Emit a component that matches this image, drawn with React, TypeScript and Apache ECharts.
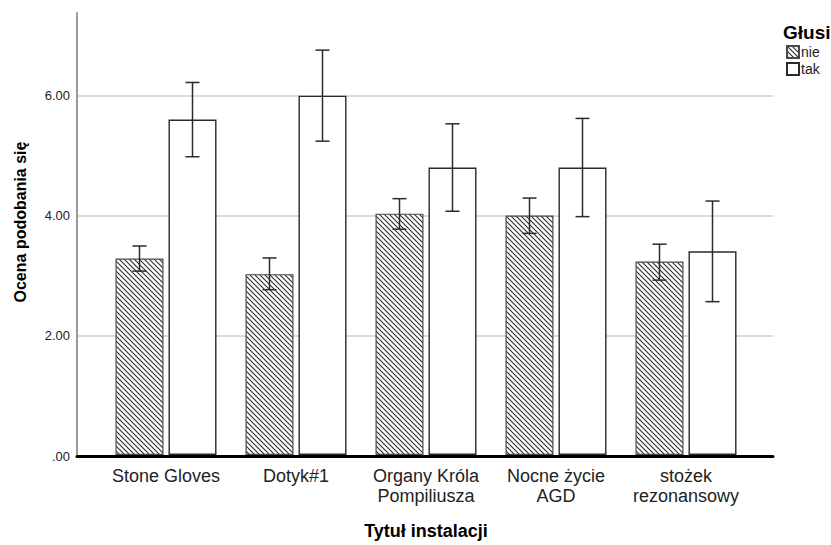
import React, { useEffect, useRef } from "react";
import * as echarts from "echarts";

const categories = ["Stone Gloves", "Dotyk#1", "Organy Króla\nPompiliusza", "Nocne życie\nAGD", "stożek\nrezonansowy"];
const groupNames = ["nie", "tak"];
const nieMeans = [3.28, 3.02, 4.03, 4.0, 3.23];
const nieLow = [3.07, 2.76, 3.77, 3.7, 2.92];
const nieHigh = [3.49, 3.29, 4.28, 4.29, 3.52];
const takMeans = [5.6, 6.0, 4.8, 4.8, 3.4];
const takLow = [4.98, 5.24, 4.07, 3.98, 2.56];
const takHigh = [6.22, 6.76, 5.53, 5.62, 4.24];
const yTicks = [0, 2, 4, 6];

const FONT = "'Liberation Sans', Arial, sans-serif";

function makeHatch(): string {
  const p = 5;
  const c = document.createElement("canvas");
  c.width = p;
  c.height = p;
  const ctx = c.getContext("2d")!;
  ctx.fillStyle = "#ffffff";
  ctx.fillRect(0, 0, p, p);
  ctx.strokeStyle = "#2a2a2a";
  ctx.lineWidth = 1.1;
  for (let k = -1; k <= 1; k++) {
    ctx.beginPath();
    ctx.moveTo(k * p - 1, -1);
    ctx.lineTo(k * p + p + 1, p + 1);
    ctx.stroke();
  }
  return c.toDataURL();
}

export default function App() {
  const ref = useRef<HTMLDivElement>(null);
  useEffect(() => {
    const chart = echarts.init(ref.current!, undefined, { renderer: "svg" });
    const hatch = { image: makeHatch(), repeat: "repeat" } as any;
    const barW = 48;
    const gap = 5;
    const off = (barW + gap) / 2;
    const yMax = 7.38;

    const errSeries = (low: number[], high: number[], dx: number) => ({
      type: "custom",
      xAxisIndex: 1,
      yAxisIndex: 1,
      silent: true,
      z: 5,
      data: low.map((l, i) => [i, l, high[i]]),
      renderItem: (params: any, api: any) => {
        const i = api.value(0);
        const x = api.coord([i, 0])[0] + dx;
        const yl = api.coord([i, api.value(1)])[1];
        const yh = api.coord([i, api.value(2)])[1];
        const st = { stroke: "#2b2b2b", lineWidth: 1.5 };
        const cw = 7;
        return {
          type: "group",
          children: [
            { type: "line", shape: { x1: x, y1: yl, x2: x, y2: yh }, style: st },
            { type: "line", shape: { x1: x - cw, y1: yl, x2: x + cw, y2: yl }, style: st },
            { type: "line", shape: { x1: x - cw, y1: yh, x2: x + cw, y2: yh }, style: st },
          ],
        };
      },
    });

    chart.setOption({
      animation: false,
      backgroundColor: "#ffffff",
      textStyle: { fontFamily: FONT },
      grid: [
        { left: 77, right: 58, top: 13, bottom: 89 },
        { left: 101, right: 80, top: 13, bottom: 89 },
      ],
      xAxis: [
        {
          gridIndex: 0,
          type: "category",
          data: categories,
          axisLine: { show: true, lineStyle: { color: "#000000", width: 3 } },
          axisTick: { show: false },
          axisLabel: { show: false },
          splitLine: { show: false },
          z: 10,
        },
        {
          gridIndex: 1,
          type: "category",
          data: categories,
          axisLine: { show: false },
          axisTick: { show: false },
          axisLabel: { interval: 0, fontSize: 18, color: "#222222", margin: 11, lineHeight: 20, fontFamily: FONT },
          name: "Tytuł instalacji",
          nameLocation: "middle",
          nameGap: 67,
          nameTextStyle: { fontSize: 18, fontWeight: "bold", color: "#000000", fontFamily: FONT },
        },
      ],
      yAxis: [
        {
          gridIndex: 0,
          type: "value",
          min: 0,
          max: yMax,
          interval: 2,
          axisLine: { show: true, lineStyle: { color: "#9a9a9a", width: 2 } },
          axisTick: { show: false },
          axisLabel: {
            fontSize: 13,
            color: "#222222",
            margin: 7,
            showMaxLabel: false,
            formatter: (v: number) => (yTicks.includes(v) ? (v === 0 ? ".00" : v.toFixed(2)) : ""),
          },
          splitLine: { show: true, showMaxLine: false, lineStyle: { color: "#cfcfcf", width: 1.5 } },
        },
        {
          gridIndex: 1,
          type: "value",
          min: 0,
          max: yMax,
          show: false,
          splitLine: { show: false },
        },
      ],
      legend: {
        orient: "vertical",
        left: 786,
        top: 45,
        padding: 0,
        itemWidth: 12,
        itemHeight: 12,
        itemGap: 3,
        icon: "rect",
        data: groupNames,
        textStyle: { fontSize: 14, color: "#222222", padding: [0, 0, 0, -3], fontFamily: FONT },
        selectedMode: false,
      },
      graphic: [
        {
          type: "text",
          x: 783,
          y: 32,
          style: { text: "Głusi", font: `bold 19px ${FONT}`, fill: "#000000", textVerticalAlign: "middle" },
        },
        {
          type: "text",
          x: 20,
          y: 222,
          rotation: Math.PI / 2,
          style: {
            text: "Ocena podobania się",
            font: `bold 16px ${FONT}`,
            fill: "#000000",
            textAlign: "center",
            textVerticalAlign: "middle",
          },
        },
      ],
      series: [
        {
          name: groupNames[0],
          type: "bar",
          xAxisIndex: 1,
          yAxisIndex: 1,
          data: nieMeans,
          barWidth: barW,
          barGap: `${(gap / barW) * 100}%`,
          itemStyle: { color: hatch, borderColor: "#4a4a4a", borderWidth: 1.2 },
        },
        {
          name: groupNames[1],
          type: "bar",
          xAxisIndex: 1,
          yAxisIndex: 1,
          data: takMeans,
          barWidth: barW,
          itemStyle: { color: "#ffffff", borderColor: "#2b2b2b", borderWidth: 1.4 },
        },
        errSeries(nieLow, nieHigh, -off),
        errSeries(takLow, takHigh, off),
      ],
    });
    return () => chart.dispose();
  }, []);
  return <div ref={ref} style={{ width: 831, height: 545, position: "absolute", left: 0, top: 0 }} />;
}
